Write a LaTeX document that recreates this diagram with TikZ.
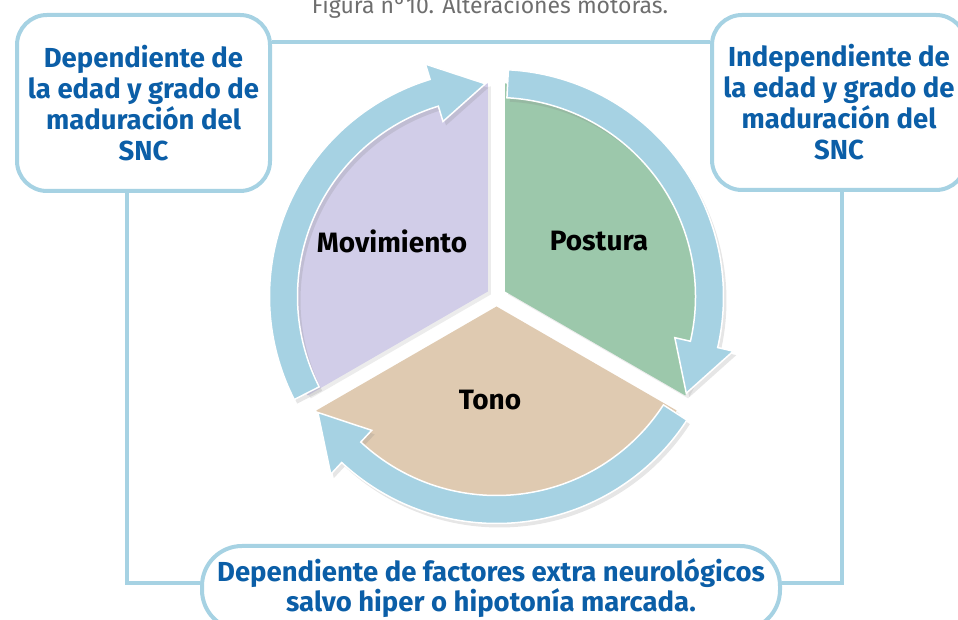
\documentclass[tikz,border=0pt]{standalone}
\usepackage{fontspec}
\setmainfont{Fira Sans}
\usetikzlibrary{shadows}
\definecolor{anillo}{HTML}{A6D2E3}
\definecolor{azultexto}{HTML}{0B5EA7}
\definecolor{lila}{HTML}{D1CDE8}
\definecolor{verde}{HTML}{9CC8AB}
\definecolor{arena}{HTML}{DFCAB1}
\definecolor{gristitulo}{HTML}{6E6E6E}
\begin{document}
\begin{tikzpicture}[x=1pt,y=1pt,
    caja/.style={draw=anillo,line width=4pt,fill=white,align=center,text=azultexto,inner sep=0pt,
      font=\fontsize{27.5}{31}\selectfont\bfseries},
    enlace/.style={draw=anillo,line width=4pt},
    sector/.style={drop shadow={shadow xshift=3pt,shadow yshift=-3pt,opacity=.15}},
    flecha/.style={fill=anillo,draw=white,line width=1.5pt,
      drop shadow={shadow xshift=3pt,shadow yshift=-4pt,opacity=.2}},
    etiqueta/.style={font=\fontsize{28}{30}\selectfont\bfseries}]
    \useasboundingbox (0,0) rectangle (958,620);
    \node[font=\fontsize{23}{25}\selectfont,text=gristitulo,anchor=base] (titulo) at (490,606) {Figura n°10. Alteraciones motoras.};
    \node[caja,rounded corners=30pt,minimum width=253pt,minimum height=176pt] (edad) at (143.5,517) {Dependiente de\\la edad y grado de\\maduración del\\SNC};
    \node[caja,rounded corners=30pt,minimum width=254pt,minimum height=175pt] (indep) at (839,517.5) {Independiente de\\la edad y grado de\\maduración del\\SNC};
    \node[caja,rounded corners=40pt,minimum width=578pt,minimum height=84pt,font=\fontsize{27.5}{30}\selectfont\bfseries] (factores) at (491,32) {Dependiente de factores extra neurológicos\\salvo hiper o hipotonía marcada.};
    \draw[enlace] ([yshift=-29pt]edad.north east) -- ([yshift=-29pt]indep.north west);
    \draw[enlace] ([xshift=-16.5pt]edad.south) |- ([yshift=5pt]factores.west);
    \draw[enlace] ([xshift=3pt]indep.south) |- ([yshift=5pt]factores.east);
    % ciclo central
    \coordinate (ring) at (496.5,323.5);
    \fill[lila,sector] ([shift={(150:10)}]ring) -- ++(90:208) arc[start angle=90,end angle=210,radius=208] -- cycle;
    \fill[verde,sector] ([shift={(30:10)}]ring) -- ++(90:208) arc[start angle=90,end angle=-30,radius=208] -- cycle;
    \fill[arena,sector] ([shift={(270:10)}]ring) -- ++(210:208) arc[start angle=210,end angle=330,radius=208] -- cycle;
    \foreach \t in {207,87,-33} {
        \pgfmathsetmacro\angbase{\t-100}
        \pgfmathsetmacro\angtip{\t-114}
        \filldraw[flecha] ([shift={(\t:227)}]ring) arc[start angle=\t,end angle=\angbase,radius=227]
            -- ([shift={(\angbase:243)}]ring) -- ([shift={(\angtip:213)}]ring) -- ([shift={(\angbase:183)}]ring)
            -- ([shift={(\angbase:199)}]ring) arc[start angle=\angbase,end angle=\t,radius=199] -- cycle;
    }
    \node[etiqueta] (mov) at (392,379) {Movimiento};
    \node[etiqueta] (post) at (599,379) {Postura};
    \node[etiqueta] (tono) at (490,220) {Tono};
\end{tikzpicture}
\end{document}
